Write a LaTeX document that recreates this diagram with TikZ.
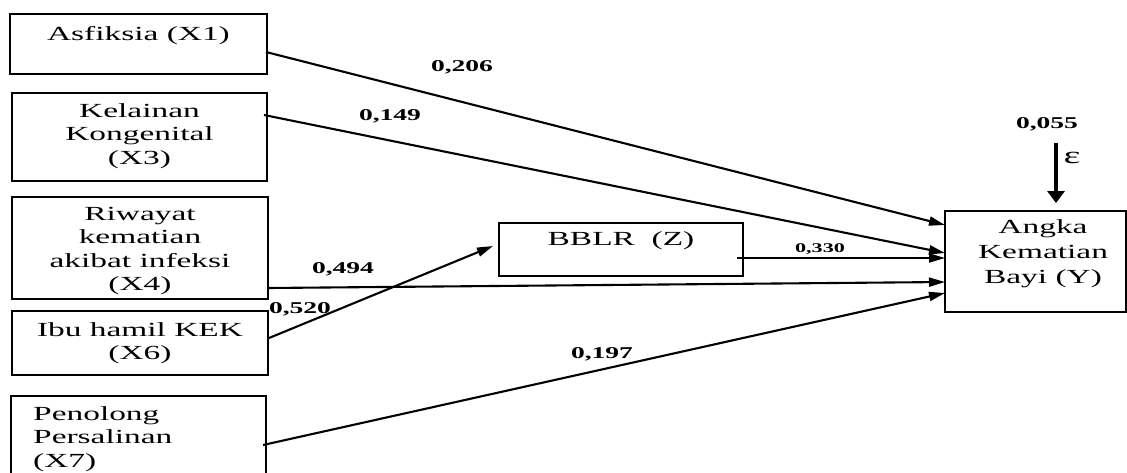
\documentclass[tikz,border=0pt]{standalone}
\usepackage{fontspec}
\setmainfont{Liberation Serif}[FakeStretch=1.67]
\usetikzlibrary{arrows.meta}
\begin{document}
\begin{tikzpicture}[x=1pt,y=-1pt,
  box/.style={draw, line width=1.9pt, inner sep=0pt, outer sep=0pt, rectangle},
  btext/.style={font=\fontsize{20}{23.5}\selectfont, inner sep=0pt, align=center, anchor=north},
  coef/.style={font=\fontsize{16.5}{18}\selectfont\bfseries, inner sep=0pt, anchor=base},
  conn/.style={line width=2.1pt, -{Triangle[length=16pt,width=9pt]}},
]
\useasboundingbox (0,0) rectangle (1127,472);
% boxes
\node[box, minimum width=257pt, minimum height=60pt] (x1) at (138.5,44) {};
\node[box, minimum width=255pt, minimum height=88pt] (x3) at (139.5,137) {};
\node[box, minimum width=256pt, minimum height=102pt] (x4) at (140,248) {};
\node[box, minimum width=256pt, minimum height=64pt] (x6) at (140,343) {};
\node[box, minimum width=255pt, minimum height=94pt] (x7) at (138.5,443) {};
\node[box, minimum width=244pt, minimum height=53pt] (z) at (621,249.5) {};
\node[box, minimum width=181pt, minimum height=101pt] (y) at (1035.5,261.5) {};
% box texts
\node[btext] (t1) at (138.5,23.55) {\strut Asfiksia (X1)};
\node[btext] (t3) at (139.5,100.55) {\strut Kelainan\\Kongenital\\(X3)};
\node[btext] (t4) at (140,203.55) {\strut Riwayat\\kematian\\akibat infeksi\\(X4)};
\node[btext] (t6) at (140,319.55) {\strut Ibu hamil KEK\\(X6)};
\node[btext, anchor=north west, align=left] (t7) at (33,403.55) {\strut Penolong\\Persalinan\\(X7)};
\node[btext] (tz) at (621,228.55) {\strut BBLR~~(Z)};
\node[btext, font=\fontsize{20}{25}\selectfont] (ty) at (1043,215.5) {\strut Angka\\Kematian\\Bayi (Y)};
% connectors
\draw[conn] ([xshift=-1pt,yshift=-8pt]x1.east) -- ([yshift=36.5pt]y.west);
\draw[conn] ([xshift=-3pt,yshift=22pt]x3.east) -- ([yshift=8.5pt]y.west);
\draw[conn] ([xshift=-6pt,yshift=-8.5pt]z.east) -- ([yshift=3.5pt]y.west);
\draw[conn] ([yshift=-40pt]x4.east) -- ([yshift=-20.5pt]y.west);
\draw[conn] ([xshift=-3pt,yshift=-2pt]x7.east) -- ([yshift=-31.5pt]y.west);
\draw[conn] ([xshift=1pt,yshift=5pt]x6.east) -- ([xshift=-6pt,yshift=3.5pt]z.west);
\coordinate (e0) at (1056,143);
\draw[line width=3.2pt, -{Triangle[length=12pt,width=17pt]}] (e0) -- ([xshift=20.5pt,yshift=8pt]y.north);
% coefficients
\node[coef] (l206) at (462,71) {0,206};
\node[coef] (l149) at (390,120) {0,149};
\node[coef] (l494) at (343,273) {0,494};
\node[coef] (l520) at (300,313) {0,520};
\node[coef] (l197) at (602,358) {0,197};
\node[coef, font=\fontsize{13.3}{15}\selectfont\bfseries] (l330) at (820,252) {0,330};
\node[coef] (l055) at (1047,128) {0,055};
\node[font=\fontsize{24}{26}\selectfont, inner sep=0pt] (eps) at (1072,158) {ε};
\end{tikzpicture}
\end{document}
